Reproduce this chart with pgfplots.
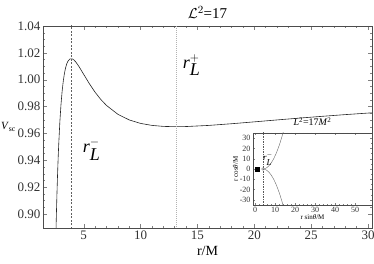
\documentclass[border=0pt]{standalone}
\usepackage{fontspec}
\setmainfont{Liberation Serif}
\usepackage{pgfplots}
\pgfplotsset{compat=1.18}
\begin{document}
\begin{tikzpicture}
\begin{axis}[
  name=main,
  at={(0pt,0pt)}, anchor=south west,
  scale only axis, width=329pt, height=202pt,
  xmin=1.42, xmax=30.35, ymin=0.8896, ymax=1.04,
  xtick={5,10,15,20,25,30}, minor x tick num=4,
  ytick={0.90,0.92,0.94,0.96,0.98,1.00,1.02,1.04}, minor y tick num=3,
  yticklabel style={xshift=1pt, /pgf/number format/fixed, /pgf/number format/fixed zerofill, /pgf/number format/precision=2},
  /pgf/number format/assume math mode=true,
  tick label style={font=\fontsize{13}{14}\selectfont, black!80},
  xticklabel style={yshift=1pt},
  tick align=inside, major tick length=4pt, minor tick length=2pt,
  every tick/.style={gray, line width=0.4pt},
  axis line style={gray!60!black, line width=0.5pt},
  title={$\mathcal{L}^{2}$=17}, title style={font=\fontsize{15}{17}\selectfont, yshift=-2pt},
  xlabel={r/M}, xlabel style={font=\fontsize{14}{16}\selectfont, yshift=0pt},
  ylabel={\textit{V}\textsubscript{sc}}, ylabel style={font=\fontsize{11}{12}\selectfont, rotate=-90, at={(axis description cs:-0.079,0.50)}, anchor=east, inner sep=1pt},
  clip=true,
]
\addplot[black!85, line width=0.6pt] coordinates {
(2.56,0.88667)(2.57,0.89031)(2.58,0.89384)(2.6,0.90062)(2.65,0.91600)(2.7,0.92943)(2.75,0.94117)
(2.8,0.95145)(2.9,0.96834)(3.0,0.98131)(3.1,0.99123)(3.2,0.99878)(3.3,1.00445)(3.4,1.00861)
(3.5,1.01160)(3.6,1.01363)(3.8,1.01556)(4.0,1.01550)(4.15,1.01462)(4.3,1.01325)(4.6,1.00961)
(5.0,1.00399)(5.5,0.99699)(6,0.99070)(6.5,0.98533)(7,0.98087)(8,0.97428)(9,0.97006)(10,0.96747)
(11,0.96599)(12,0.96525)(13,0.96502)(14,0.96514)(16,0.96598)(18,0.96723)(20,0.96863)(22,0.97006)
(24,0.97145)(26,0.97277)(28,0.97402)(30,0.97517)(31,0.97572)
};
\addplot[gray!75!black, dash pattern=on 2pt off 1.5pt, line width=0.5pt] coordinates {(3.89,0.85)(3.89,1.05)};
\addplot[gray!60, dash pattern=on 0.8pt off 1.2pt, line width=0.6pt] coordinates {(13.11,0.85)(13.11,1.05)};
\node[font=\fontsize{18}{20}\selectfont] at (axis cs:14.5,1.011) {$\textit{r}^{+}_{\textit{L}}$};
\node[font=\fontsize{18}{20}\selectfont] at (axis cs:5.7,0.948) {$\textit{r}^{-}_{\textit{L}}$};
\end{axis}
\begin{axis}[
  at={(210pt,23pt)}, anchor=south west,
  scale only axis, width=119pt, height=72pt,
  xmin=-1, xmax=58.5, ymin=-35, ymax=35,
  xtick={0,10,20,30,40,50}, minor x tick num=4,
  ytick={-30,-20,-10,0,10,20,30}, minor y tick num=1,
  axis background/.style={fill=white},
  /pgf/number format/assume math mode=true,
  tick label style={font=\fontsize{8}{9}\selectfont, black!80},
  xticklabel style={yshift=1pt},
  yticklabel style={xshift=1pt},
  tick align=inside, major tick length=2pt, minor tick length=1pt,
  every tick/.style={gray, line width=0.3pt},
  axis line style={gray!60!black, line width=0.4pt},
  title={\textit{L}\textsuperscript{2}=17\textit{M}\textsuperscript{2}},
  title style={font=\fontsize{10}{11}\selectfont, at={(axis description cs:0.5,1)}, anchor=south, inner sep=1pt},
  xlabel={r sin\textit{θ}/M}, xlabel style={font=\fontsize{7}{8}\selectfont, yshift=5pt},
  ylabel={r cos\textit{θ}/M}, ylabel style={font=\fontsize{7}{8}\selectfont, yshift=-5pt},
  clip=true,
]
\addplot[gray!70!black, dash pattern=on 1.5pt off 1pt, line width=0.5pt] coordinates {(3.9,-40)(3.9,40)};
\addplot[gray!80!black, line width=0.4pt] coordinates {
(14.14,36)(13.26,30)(12.45,25)(11.56,20)(10.55,15)(9.35,10)(8.14,6)(6.93,3)(5.69,1)(4.6,0.15)(4,0)
(4.6,-0.15)(5.69,-1)(6.93,-3)(8.14,-6)(9.35,-10)(10.55,-15)(11.56,-20)(12.45,-25)(13.26,-30)(14.14,-36)
};
\addplot[black, fill=black] coordinates {(0,-2)(2,-2)(2,2)(0,2)} -- cycle;
\addplot[only marks, mark=o, mark size=1.3pt, gray, mark options={line width=0.4pt}] coordinates {(4,0)};
\node[font=\fontsize{9}{10}\selectfont] at (axis cs:6.5,9.5) {$\textit{r}^{-}_{\textit{L}}$};
\end{axis}
\pgfresetboundingbox
\path (-43pt,-36pt) rectangle ++(374pt,264pt);
\end{tikzpicture}
\end{document}
